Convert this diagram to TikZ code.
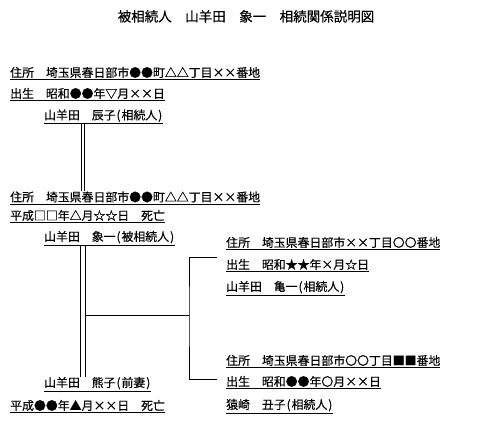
\documentclass[tikz,border=0pt]{standalone}
\usepackage{fontspec}
\setmainfont{Noto Sans CJK JP}[FakeBold=0.3]
\usetikzlibrary{positioning}
\newcommand\hp[1]{\makebox[0.5em]{#1}}

\begin{document}
\begin{tikzpicture}[x=1pt,y=-1pt,
  txt/.style={inner sep=0pt, anchor=base west, font=\fontsize{11.9}{14}\selectfont},
  dbl/.style={double, double distance=1.7pt, line width=0.9pt},
  conn/.style={line width=0.9pt}]
\useasboundingbox (0,0) rectangle (480,430);
\node[inner sep=0pt, anchor=base, font=\fontsize{13.5}{16}\selectfont] (title) at (246,21.5) {被相続人　山羊田　象一　相続関係説明図};
% left side
\node[txt] (addrA) at (10,77) {\underline{住所　埼玉県春日部市●●町△△丁目××番地}};
\node[txt] (birthA) at (10,98) {\underline{出生　昭和●●年▽月××日}};
\node[txt] (tatsuko) at (44,119.5) {\underline{山羊田　辰子\hp(相続人\hp)}};
\node[txt] (addrB) at (10,201.5) {\underline{住所　埼玉県春日部市●●町△△丁目××番地}};
\node[txt] (deathB) at (10,220) {\underline{平成□□年△月☆☆日　死亡}};
\node[txt] (shoichi) at (44,241) {\underline{山羊田　象一\hp(被相続人\hp)}};
\node[txt] (kumako) at (44,387) {\underline{山羊田　熊子\hp(前妻\hp)}};
\node[txt] (deathK) at (10,410) {\underline{平成●●年▲月××日　死亡}};
% right side
\node[txt] (addrC) at (226,247) {\underline{住所　埼玉県春日部市××丁目〇〇番地}};
\node[txt] (birthC) at (226,269) {\underline{出生　昭和★★年×月☆日}};
\node[txt] (kiichi) at (226,291) {\underline{山羊田　亀一\hp(相続人\hp)}};
\node[txt] (addrD) at (226,365) {\underline{住所　埼玉県春日部市〇〇丁目■■番地}};
\node[txt] (birthD) at (226,386) {\underline{出生　昭和●●年〇月××日}};
\node[txt] (ushiko) at (226,409) {\underline{猿崎　丑子\hp(相続人\hp)}};
% lines
\draw[dbl] ([xshift=39pt]tatsuko.south west) -- ([xshift=73pt]addrB.north west);
\draw[conn] ([xshift=36.8pt]shoichi.south west) -- ([xshift=36.8pt]kumako.north west);
\draw[conn] ([xshift=41pt]shoichi.south west) -- ([xshift=41pt]kumako.north west);
\coordinate (jn) at (85.5,315);
\coordinate (fork) at (189,315);
\draw[conn] (jn) -- (fork);
\draw[conn] ([xshift=-9pt,yshift=1pt]birthC.north west) -| (fork) |- ([xshift=-9pt,yshift=-4pt]birthD.north west);
\end{tikzpicture}
\end{document}
